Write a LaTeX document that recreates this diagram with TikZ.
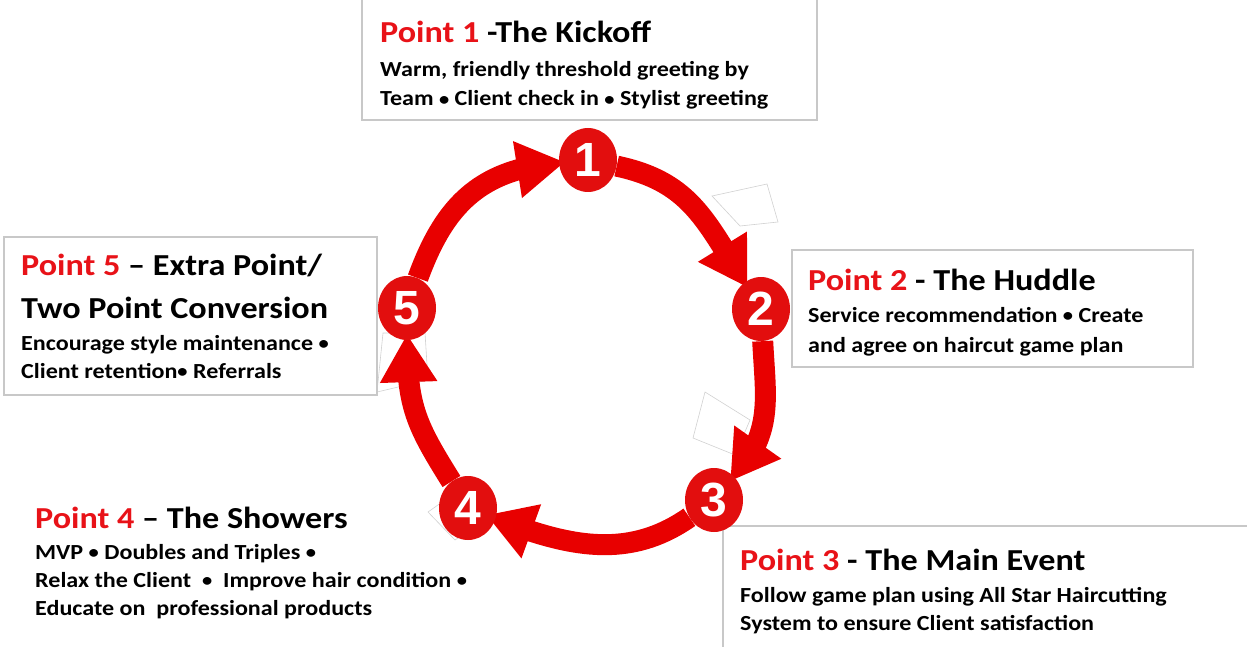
\documentclass[tikz,border=0pt]{standalone}
\usepackage{fontspec}
\setmainfont{Carlito}
\newfontfamily\wide[FakeStretch=1.12]{Carlito}
\newfontfamily\numfont{Liberation Sans}
\usetikzlibrary{arrows.meta,bending,shapes.geometric}
\definecolor{ringred}{RGB}{232,0,0}
\definecolor{discred}{RGB}{226,14,14}
\definecolor{titlered}{RGB}{232,18,24}
\definecolor{frame}{RGB}{200,200,200}
\pgfdeclarelayer{back}
\pgfdeclarelayer{mid}
\pgfsetlayers{back,mid,main}
% small list bullet
\newcommand\bul{\raisebox{0.8pt}{\scalebox{0.85}{•}}}

\begin{document}
\begin{tikzpicture}[x=1pt,y=-1pt,
  infobox/.style={draw=frame,line width=1.2pt},
  title/.style={anchor=base west,inner sep=0,font=\wide\bfseries\fontsize{30.5}{30.5}\selectfont},
  body/.style={anchor=base west,inner sep=0,font=\wide\bfseries\fontsize{21.5}{21.5}\selectfont},
  disc/.style={ellipse,fill=discred,minimum width=58pt,minimum height=64pt,inner sep=0,
    text=white,font=\numfont\bfseries\fontsize{48}{48}\selectfont},
  ring/.style={draw=ringred,line width=21pt,-{Triangle[width=54pt,length=48pt]},shorten >=-6pt},
  ghost/.style={draw=black!18,line width=0.6pt,fill=white}]

\useasboundingbox (0,0) rectangle (1247,647);

% text frames
\draw[infobox] (362,-2) rectangle (817,120);
\draw[infobox] (792,250) rectangle (1193,367);
\draw[infobox] (723,526) rectangle (1252,652);
\draw[infobox] (4,237) rectangle (377,395);

% numbered discs
\node[disc] (d1) at (588,160) {1};
\node[disc] (d2) at (761,309) {2};
\node[disc] (d3) at (714,500) {3};
\node[disc] (d4) at (468,508) {4};
\node[disc] (d5) at (407,308) {5};

% leftover handles under the ring
\begin{pgfonlayer}{back}
  \draw[ghost] (712,196) -- (767,184) -- (778,222) -- (740,226) -- cycle;
  \draw[ghost] (705,392) -- (750,420) -- (735,455) -- (693,438) -- cycle;
  \draw[ghost] (383,333) -- (425,333) -- (428,380) -- (377,392) -- cycle;
  \draw[ghost] (428,512) -- (445,500) -- (470,530) -- (455,540) -- cycle;
\end{pgfonlayer}

% cycle arrows, clockwise
\begin{pgfonlayer}{mid}
  \draw[ring] (d5) to[out=70,in=185,looseness=1.1] (d1);
  \draw[ring] (d1) to[out=-12,in=122,looseness=1.1] (d2);
  \draw[ring] (d2) to[out=-87,in=49,looseness=1.1] (d3);
  \draw[ring,shorten >=-10pt] (d3) to[out=-145,in=-21] (d4);
  \draw[ring] (d4) to[out=122,in=-90,looseness=1.15] (d5);
\end{pgfonlayer}

% Point 1
\node[title] (t1) at (380,43) {{\color{titlered}Point 1} -The Kickoff};
\node[body] (b1a) at (380,77) {Warm, friendly threshold greeting by};
\node[body] (b1b) at (380,106) {Team \bul{} Client check in \bul{} Stylist greeting};

% Point 2
\node[title] (t2) at (808,290) {{\color{titlered}Point 2} - The Huddle};
\node[body] (b2a) at (808,322) {Service recommendation \bul{} Create};
\node[body] (b2b) at (808,352) {and agree on haircut game plan};

% Point 3
\node[title] (t3) at (740,570) {{\color{titlered}Point 3} - The Main Event};
\node[body] (b3a) at (740,602) {Follow game plan using All Star Haircutting};
\node[body] (b3b) at (740,630) {System to ensure Client satisfaction};

% Point 4
\node[title] (t4) at (35,528) {{\color{titlered}Point 4} – The Showers};
\node[body] (b4a) at (35,559) {MVP \bul{} Doubles and Triples \bul};
\node[body] (b4b) at (35,587) {Relax the Client \ \bul{} \ Improve hair condition \bul};
\node[body] (b4c) at (35,615) {Educate on \ professional products};

% Point 5
\node[title] (t5a) at (21,275) {{\color{titlered}Point 5} – Extra Point/};
\node[title] (t5b) at (21,318) {Two Point Conversion};
\node[body] (b5a) at (21,350) {Encourage style maintenance \bul};
\node[body] (b5b) at (21,378) {Client retention\bul{} Referrals};
\end{tikzpicture}
\end{document}
